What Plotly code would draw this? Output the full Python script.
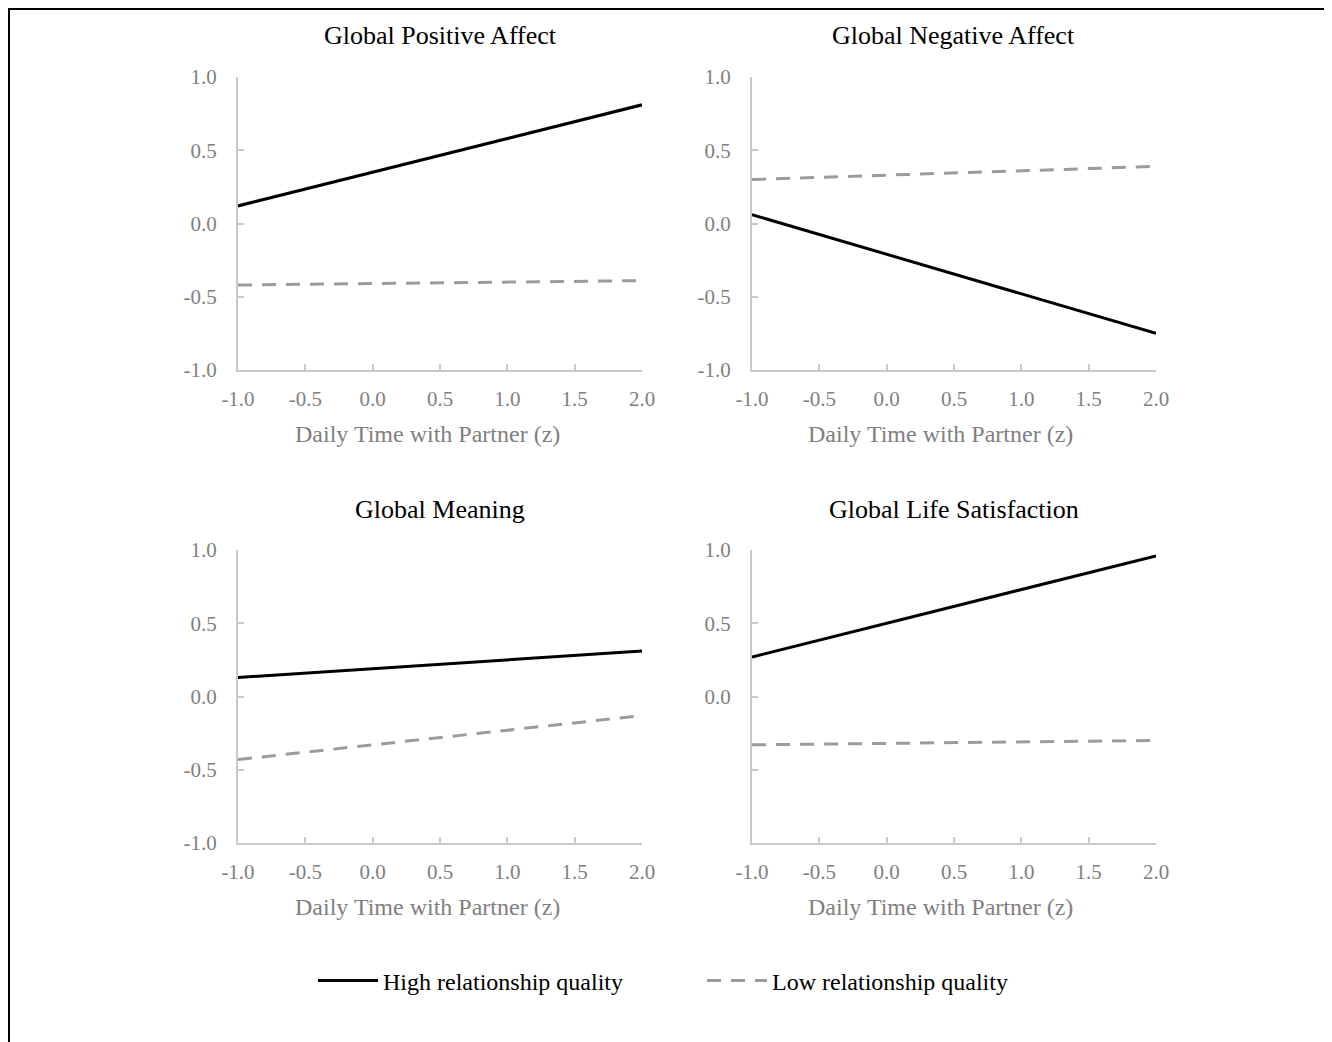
import plotly.graph_objects as go

# ---- data ----
x_vals = [-1.0, 2.0]
panel_titles = ["Global Positive Affect", "Global Negative Affect",
                "Global Meaning", "Global Life Satisfaction"]
pos_high = [0.12, 0.81]
pos_low = [-0.42, -0.39]
neg_high = [0.06, -0.75]
neg_low = [0.30, 0.39]
mean_high = [0.13, 0.31]
mean_low = [-0.43, -0.13]
life_high = [0.27, 0.96]
life_low = [-0.33, -0.30]
x_ticks = [-1.0, -0.5, 0.0, 0.5, 1.0, 1.5, 2.0]
x_ticklabels = ["-1.0", "-0.5", "0.0", "0.5", "1.0", "1.5", "2.0"]
y_ticks = [-1.0, -0.5, 0.0, 0.5, 1.0]
y_ticklabels = ["-1.0", "-0.5", "0.0", "0.5", "1.0"]
y_ticklabels_life = ["", "", "0.0", "0.5", "1.0"]
series_names = ["High relationship quality", "Low relationship quality"]
x_title = "Daily Time with Partner (z)"

W, H = 1332, 1042
OFF = 8  # page body margin
FONT = "Liberation Serif, Times New Roman, serif"
AXIS_GRAY = "#c9c9c9"
LABEL_GRAY = "#7f7f7f"
LOW_GRAY = "#9b9b9b"

def px_x(p):
    return (p - OFF) / W

def px_y(p):
    return 1 - (p - OFF) / H

col_domains = [[px_x(238), px_x(642)], [px_x(752), px_x(1156)]]
row_domains = [[px_y(370), px_y(77)], [px_y(843), px_y(550)]]

panels = [
    (pos_high, pos_low, 0, 0, y_ticklabels),
    (neg_high, neg_low, 0, 1, y_ticklabels),
    (mean_high, mean_low, 1, 0, y_ticklabels),
    (life_high, life_low, 1, 1, y_ticklabels_life),
]

fig = go.Figure()
layout = {}
annotations = []
for i, (hi, lo, r, c, ylabels) in enumerate(panels):
    n = i + 1
    xa = "x" if n == 1 else f"x{n}"
    ya = "y" if n == 1 else f"y{n}"
    fig.add_trace(go.Scatter(x=x_vals, y=hi, mode="lines", xaxis=xa, yaxis=ya,
                             name=series_names[0], legendgroup="hi",
                             showlegend=(n == 1),
                             line=dict(color="black", width=3)))
    fig.add_trace(go.Scatter(x=x_vals, y=lo, mode="lines", xaxis=xa, yaxis=ya,
                             name=series_names[1], legendgroup="lo",
                             showlegend=(n == 1),
                             line=dict(color=LOW_GRAY, width=3, dash="14px,10px")))
    common = dict(showline=True, linecolor=AXIS_GRAY, linewidth=2,
                  ticks="inside", ticklen=6, tickwidth=2, tickcolor=AXIS_GRAY,
                  showgrid=False, zeroline=False, fixedrange=True,
                  tickfont=dict(family=FONT, size=21, color=LABEL_GRAY))
    layout["xaxis" if n == 1 else f"xaxis{n}"] = dict(
        domain=col_domains[c], range=[-1, 2], anchor=ya,
        tickvals=x_ticks, ticktext=x_ticklabels, ticklabelstandoff=9,
        automargin=False, **common)
    layout["yaxis" if n == 1 else f"yaxis{n}"] = dict(
        domain=row_domains[r], range=[-1, 1], anchor=xa,
        tickvals=y_ticks, ticktext=ylabels, ticklabelstandoff=15,
        automargin=False, **common)
    # panel title
    annotations.append(dict(
        text=panel_titles[i], xref="paper", yref="paper",
        x=sum(col_domains[c]) / 2, y=row_domains[r][1] + 41 / H,
        xanchor="center", yanchor="middle", showarrow=False,
        font=dict(family=FONT, size=26, color="black")))
    # x-axis title (Excel places it slightly left of the plot centre)
    annotations.append(dict(
        text=x_title, xref="paper", yref="paper",
        x=sum(col_domains[c]) / 2, xshift=-13,
        y=row_domains[r][0] - 64 / H,
        xanchor="center", yanchor="middle", showarrow=False,
        font=dict(family=FONT, size=24, color=LABEL_GRAY)))

fig.update_layout(
    **layout,
    annotations=annotations,
    width=W, height=H,
    margin=dict(l=0, r=0, t=0, b=0),
    paper_bgcolor="white", plot_bgcolor="white",
    showlegend=True,
    legend=dict(orientation="h", x=px_x(313), y=px_y(981),
                xanchor="left", yanchor="middle",
                entrywidth=314, itemwidth=60,
                font=dict(family=FONT, size=24, color="black"),
                bgcolor="rgba(0,0,0,0)"),
    shapes=[dict(type="rect", xref="paper", yref="paper",
                 x0=px_x(9), x1=1.05, y0=-0.05, y1=px_y(9),
                 line=dict(color="black", width=2), fillcolor="rgba(0,0,0,0)")],
)

fig.write_html("out.html")
